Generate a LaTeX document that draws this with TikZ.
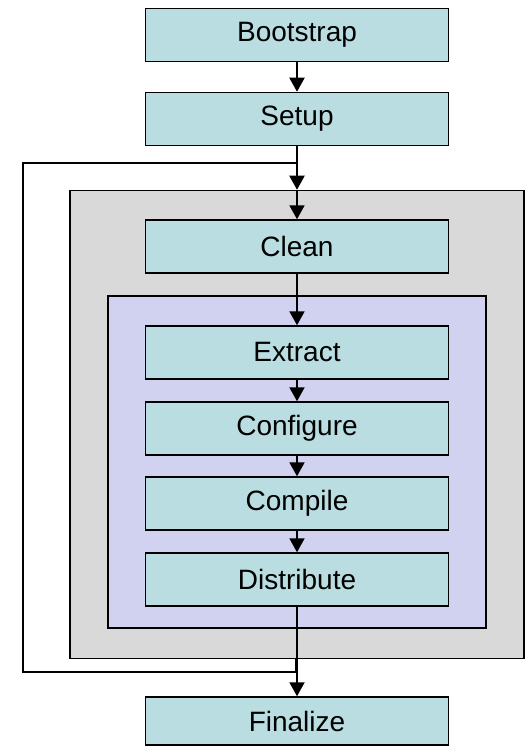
\documentclass[tikz,border=0pt]{standalone}
\usepackage{fontspec}
\setmainfont{Liberation Sans}
\usetikzlibrary{arrows.meta}
\definecolor{boxfill}{RGB}{185,221,225}
\definecolor{grayfill}{RGB}{217,217,217}
\definecolor{purplefill}{RGB}{209,209,240}
\begin{document}
\begin{tikzpicture}[x=1pt,y=-1pt,
  stepbox/.style={draw=black, line width=1.5pt, fill=boxfill, minimum width=303pt, minimum height=53pt, inner sep=0pt, font=\fontsize{28}{32}\selectfont},
  region/.style={draw=black, line width=1.5pt, inner sep=0pt},
  flow/.style={line width=2pt, -{Triangle[width=15pt,length=14pt]}},
  loopline/.style={line width=2pt}]
\useasboundingbox (0,0) rectangle (529,746);
\node[region, fill=grayfill, minimum width=454pt, minimum height=468pt] (outer) at (297,424.5) {};
\node[region, fill=purplefill, minimum width=378pt, minimum height=332pt] (inner) at (297,462) {};
\node[stepbox] (bootstrap) at (297,35) {Bootstrap};
\node[stepbox] (setup) at (297,119) {Setup};
\node[stepbox] (clean) at (297,246.5) {Clean};
\node[stepbox] (extract) at (297,352.5) {Extract};
\node[stepbox] (configure) at (297,428.5) {Configure};
\node[stepbox] (compile) at (297,503.5) {Compile};
\node[stepbox] (distribute) at (297,579.5) {Distribute};
\node[stepbox, minimum height=48pt] (finalize) at (297,721) {Finalize};
\coordinate (ltop) at (297,163);
\coordinate (lbot) at (295.5,672);
\coordinate (lstart) at (295.5,658);
\coordinate (lbl) at (23,672);
\coordinate (ltl) at (23,163);
\draw[loopline] (lstart) -- (lbot) -- (lbl) -- (ltl) -- (ltop);
\draw[flow] (bootstrap) -- (setup);
\draw[flow] (setup) -- (outer.north);
\draw[flow] (outer.north) -- (clean);
\draw[flow] (clean) -- (extract);
\draw[flow] (extract) -- (configure);
\draw[flow] (configure) -- (compile);
\draw[flow] (compile) -- (distribute);
\draw[flow] (distribute) -- (finalize);
\end{tikzpicture}
\end{document}
